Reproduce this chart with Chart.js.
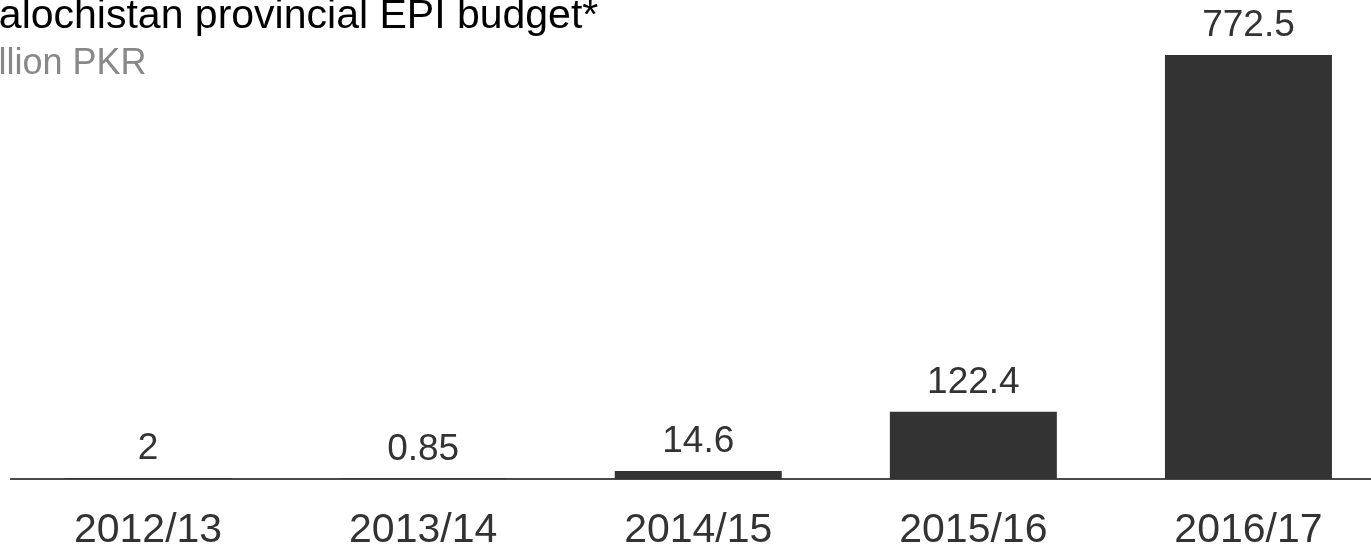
<!DOCTYPE html>
<html>
<head>
<meta charset="utf-8">
<script src="https://cdn.jsdelivr.net/npm/chart.js@4"></script>
<style>
  html, body { margin: 0; padding: 0; background: #fff; overflow: hidden; }
  #wrap { position: relative; width: 1386px; height: 549px; }
  #chart { position: absolute; left: 0; top: 0; }
  .title { position: absolute; left: -28.5px; top: -6px; font: 41px/41px "Liberation Sans", Arial, sans-serif; color: #000; white-space: nowrap; }
  .sub { position: absolute; left: -39.5px; top: 43.5px; font: 36px/36px "Liberation Sans", Arial, sans-serif; color: #888; white-space: nowrap; }
</style>
</head>
<body>
<div id="wrap">
  <canvas id="chart" width="1386" height="549"></canvas>
  <div class="title">Balochistan provincial EPI budget*</div>
  <div class="sub">Million PKR</div>
</div>
<script>
const years = ['2012/13', '2013/14', '2014/15', '2015/16', '2016/17'];
const budget = [2, 0.85, 14.6, 122.4, 772.5];

// value labels above each bar
const valueLabels = {
    id: 'valueLabels',
    afterDatasetsDraw(chart) {
        const ctx = chart.ctx;
        const meta = chart.getDatasetMeta(0);
        ctx.save();
        ctx.font = '37px "Liberation Sans", Arial, sans-serif';
        ctx.fillStyle = '#333';
        ctx.textAlign = 'center';
        ctx.textBaseline = 'alphabetic';
        meta.data.forEach((bar, i) => {
            ctx.fillText(String(budget[i]), bar.x, bar.y - 19);
        });
        ctx.restore();
    }
};

new Chart(document.getElementById('chart'), {
    type: 'bar',
    data: {
        labels: years,
        datasets: [{
            data: budget,
            backgroundColor: '#333333',
            borderWidth: 0,
            categoryPercentage: 1,
            barPercentage: 0.607
        }]
    },
    options: {
        responsive: false,
        animation: false,
        devicePixelRatio: 1,
        layout: { padding: { left: 10.5, right: 0, top: 55, bottom: 0 } },
        plugins: { legend: { display: false }, tooltip: { enabled: false } },
        scales: {
            x: {
                grid: { display: true, color: 'rgba(0,0,0,0)', drawTicks: false },
                border: { display: true, color: '#4a4a4a', width: 2 },
                ticks: {
                    color: '#333',
                    padding: 31,
                    maxRotation: 0,
                    autoSkip: false,
                    font: { family: '"Liberation Sans", Arial, sans-serif', size: 41, lineHeight: 1 }
                },
                afterFit(scale) { scale.height = 70; }
            },
            y: {
                display: false,
                min: 0,
                max: 772.5
            }
        }
    },
    plugins: [valueLabels]
});
</script>
</body>
</html>
